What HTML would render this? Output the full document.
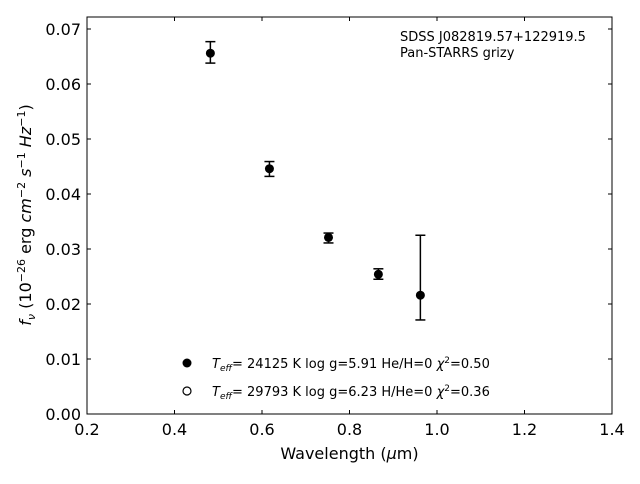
<!DOCTYPE html>
<html><head><meta charset="utf-8"><style>
body{margin:0;background:#fff;font-family:"DejaVu Sans","Liberation Sans",sans-serif}
</style></head><body>
<svg id="chart" width="640" height="480" xmlns="http://www.w3.org/2000/svg" font-family="DejaVu Sans, Liberation Sans, sans-serif">
<rect width="640" height="480" fill="#fff"/>
<g id="ticks"></g>
<g id="marks"></g>
<rect x="87" y="17" width="525" height="397" fill="none" stroke="#000" stroke-width="1"/>
<text x="400" y="41" font-size="13">SDSS J082819.57+122919.5</text>
<text x="400" y="57" font-size="13">Pan-STARRS grizy</text>
<text x="349.5" y="459" font-size="16" text-anchor="middle">Wavelength (<tspan font-style="italic">μ</tspan>m)</text>
<text transform="translate(31,215) rotate(-90)" font-size="16" text-anchor="middle"><tspan font-style="italic">f</tspan><tspan font-style="italic" font-size="11" dy="4">ν</tspan><tspan dy="-4"> (10</tspan><tspan font-size="11" dy="-6">−26</tspan><tspan dy="6"> erg </tspan><tspan font-style="italic">cm</tspan><tspan font-size="11" dy="-6">−2</tspan><tspan dy="6" font-style="italic"> s</tspan><tspan font-size="11" dy="-6">−1</tspan><tspan dy="6" font-style="italic"> Hz</tspan><tspan font-size="11" dy="-6">−1</tspan><tspan dy="6">)</tspan></text>
<g>
<circle cx="187" cy="363" r="4.5" fill="#000"/>
<text x="212" y="368" font-size="13"><tspan font-style="italic">T</tspan><tspan font-style="italic" font-size="9" dy="3">eff</tspan><tspan dy="-3">= 24125 K  log g=5.91  He/H=0  </tspan><tspan font-style="italic">χ</tspan><tspan font-size="9" dy="-5">2</tspan><tspan dy="5">=0.50</tspan></text>
<circle cx="187" cy="391" r="4" fill="#fff" stroke="#000" stroke-width="1.2"/>
<text x="212" y="396" font-size="13"><tspan font-style="italic">T</tspan><tspan font-style="italic" font-size="9" dy="3">eff</tspan><tspan dy="-3">= 29793 K  log g=6.23  H/He=0  </tspan><tspan font-style="italic">χ</tspan><tspan font-size="9" dy="-5">2</tspan><tspan dy="5">=0.36</tspan></text>
</g>
</svg>
<script>
const wavelengths=[0.482,0.617,0.752,0.866,0.962];
const fluxes=[0.0656,0.0446,0.0321,0.0254,0.0216];
const errLow=[0.0638,0.0432,0.0311,0.0245,0.0171];
const errHigh=[0.0677,0.0459,0.0329,0.0264,0.0325];
const xTicks=[0.2,0.4,0.6,0.8,1.0,1.2,1.4];
const yTicks=[0,0.01,0.02,0.03,0.04,0.05,0.06,0.07];
const L=87,R=612,T=17,B=414;
const x=v=>L+(v-0.2)/1.2*(R-L);
const y=v=>B-v/0.01*55;
const NS="http://www.w3.org/2000/svg";
const tg=document.getElementById('ticks'),mg=document.getElementById('marks');
function mk(t,a,p){const e=document.createElementNS(NS,t);for(const k in a)e.setAttribute(k,a[k]);p.appendChild(e);return e;}
xTicks.forEach(v=>{
 const X=x(v);
 const t1=mk('line',{x1:X,x2:X,y1:B,y2:B-4,stroke:'#000'},tg);
 
 
 const t2=mk('line',{x1:X,x2:X,y1:T,y2:T+4,stroke:'#000'},tg);
 
 
 const l=mk('text',{x:X,y:B+21,'font-size':16,'text-anchor':'middle'},tg);
 l.textContent=v.toFixed(1);
 
 
});
yTicks.forEach(v=>{
 const Y=y(v);
 const t1=mk('line',{x1:L,x2:L+4,y1:Y,y2:Y,stroke:'#000'},tg);
 
 
 const t2=mk('line',{x1:R,x2:R-4,y1:Y,y2:Y,stroke:'#000'},tg);
 
 
 const l=mk('text',{x:L-6,y:Y+6,'font-size':16,'text-anchor':'end'},tg);
 l.textContent=v.toFixed(2);
 
 
});
wavelengths.forEach((w,i)=>{
 const X=x(w);
 const g=mk('g',{},mg);
 
 
 mk('line',{x1:X,x2:X,y1:y(errLow[i]),y2:y(errHigh[i]),stroke:'#000','stroke-width':1.5},g);
 mk('line',{x1:X-5,x2:X+5,y1:y(errLow[i]),y2:y(errLow[i]),stroke:'#000','stroke-width':1.5},g);
 mk('line',{x1:X-5,x2:X+5,y1:y(errHigh[i]),y2:y(errHigh[i]),stroke:'#000','stroke-width':1.5},g);
 mk('circle',{cx:X,cy:y(fluxes[i]),r:4.5,fill:'#000'},g);
});
</script>
</body></html>
